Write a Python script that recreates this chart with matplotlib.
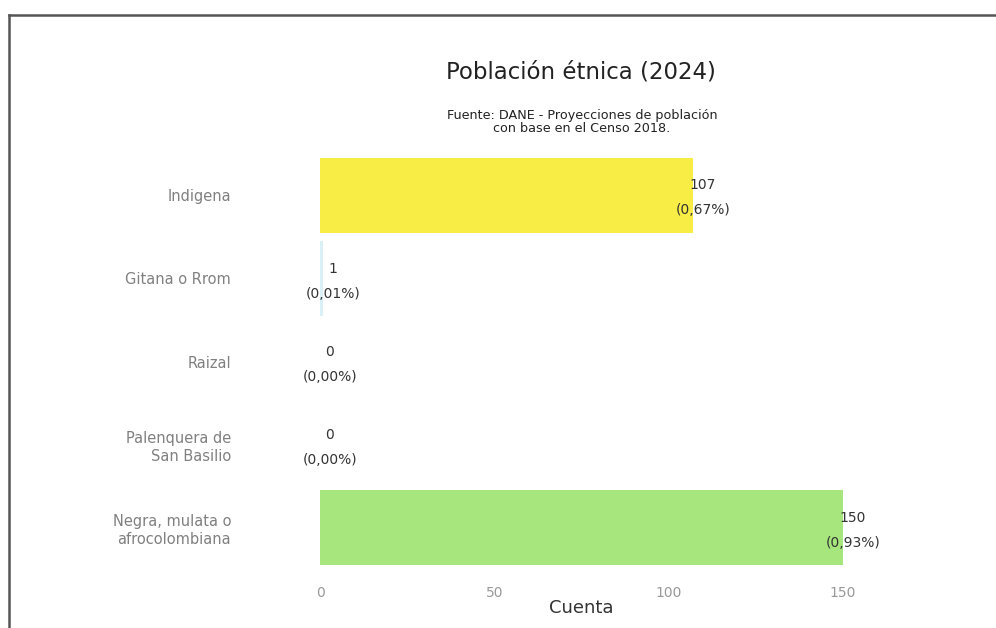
import matplotlib.pyplot as plt
from matplotlib.lines import Line2D

# data
categories = ["Indigena", "Gitana o Rrom", "Raizal",
              "Palenquera de\nSan Basilio", "Negra, mulata o\nafrocolombiana"]
counts = [107, 1, 0, 0, 150]
percents = ["0,67%", "0,01%", "0,00%", "0,00%", "0,93%"]
bar_colors = ["#f7ed45", "#d9f1f6", "#e8e8e8", "#e8e8e8", "#a6e67c"]
x_ticks = [0, 50, 100, 150]

fig = plt.figure(figsize=(9.96, 6.28), dpi=100)
ax = fig.add_axes([320 / 996, 1 - 569.5 / 628, (843 - 320) / 996, (569.5 - 153.5) / 628])

ypos = list(range(len(categories)))
ax.barh(ypos, counts, height=0.9, color=bar_colors)
ax.set_ylim(-0.5, len(categories) - 0.5)
ax.invert_yaxis()
ax.set_xlim(0, 150)

for y, c, p in zip(ypos, counts, percents):
    ax.annotate(f"{c}\n({p})", xy=(c, y), xytext=(7, -2), textcoords="offset points",
                ha="center", va="center", fontsize=10, color="#333333",
                linespacing=2.0, annotation_clip=False)

ax.set_yticks(ypos)
ax.set_yticklabels(categories, fontsize=10.5, color="#808080", multialignment="right")
ax.set_xticks(x_ticks)
ax.set_xticklabels([str(t) for t in x_ticks], fontsize=10, color="#999999")
ax.tick_params(axis="y", length=0, pad=64)
ax.tick_params(axis="x", length=0, pad=12)
for s in ax.spines.values():
    s.set_visible(False)

ax.set_xlabel("Cuenta", fontsize=13, color="#333333", labelpad=-1)

fig.text(581 / 996, 1 - 72 / 628, "Población étnica (2024)", ha="center", va="center",
         fontsize=16.5, color="#222222")
fig.text(582 / 996, 1 - 122 / 628, "Fuente: DANE - Proyecciones de población\ncon base en el Censo 2018.",
         ha="center", va="center", fontsize=9.2, color="#222222", linespacing=0.95)

# frame lines of the scanned page
fig.add_artist(Line2D([9 / 996, 1], [1 - 15 / 628, 1 - 15 / 628], color="#555555", lw=1.8))
fig.add_artist(Line2D([9 / 996, 9 / 996], [0, 1 - 15 / 628], color="#555555", lw=1.8))

fig.savefig("out.png", dpi=100)
